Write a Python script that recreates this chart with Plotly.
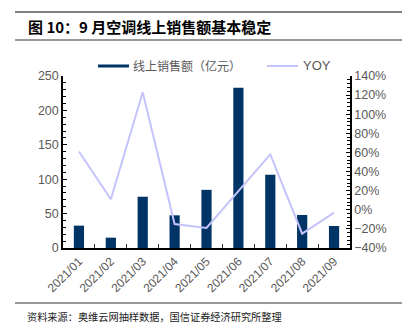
import plotly.graph_objects as go

months = ["2021/01", "2021/02", "2021/03", "2021/04", "2021/05", "2021/06", "2021/07", "2021/08", "2021/09"]
sales = [32.5, 15, 74.5, 47.5, 84.5, 233, 106.5, 48, 32]
yoy = [61, 11, 123, -15, -19, 20, 58, -25, -3]

bar_color = "#003366"
line_color = "#c4c4fb"
grey = "#595959"
cjk = "Noto Sans CJK SC"

fig = go.Figure()
fig.add_trace(go.Bar(x=months, y=sales, name="线上销售额（亿元）", marker_color=bar_color,
                     marker_line_width=0, yaxis="y", showlegend=False))
fig.add_trace(go.Scatter(x=months, y=yoy, name="YOY", mode="lines",
                         line=dict(color=line_color, width=2), yaxis="y2", showlegend=False))

fig.update_layout(
    width=411, height=329,
    margin=dict(l=63, r=61, t=76, b=81),
    paper_bgcolor="white", plot_bgcolor="white",
    bargap=0.68,
    font=dict(family="Liberation Sans, Arial, sans-serif", color=grey, size=12),
    xaxis=dict(
        showline=True, linecolor="black", linewidth=1.5,
        ticks="inside", ticklen=4, tickcolor="#333", tickson="boundaries",
        tickangle=-45, tickfont=dict(size=12, color=grey),
        showgrid=False, zeroline=False,
    ),
    yaxis=dict(
        range=[0, 250], dtick=50, showline=True, linecolor="black", linewidth=1.5,
        ticks="inside", ticklen=4, tickcolor="black",
        minor=dict(dtick=10, ticks="inside", ticklen=3, tickcolor="black"),
        showgrid=False, zeroline=False, tickfont=dict(size=12.5, color=grey),
    ),
    yaxis2=dict(
        range=[-40, 140], dtick=20, overlaying="y", side="right",
        showline=True, linecolor="black", linewidth=1.5,
        ticks="inside", ticklen=4, tickcolor="black",
        minor=dict(dtick=4, ticks="inside", ticklen=3, tickcolor="black"),
        ticksuffix="%", showgrid=False, zeroline=False,
        tickfont=dict(size=12.5, color=grey),
    ),
)

def px_x(x):
    return (x - 63) / 287

def px_y(y):
    return (248 - y) / 172

shapes = [
    dict(type="line", xref="paper", yref="paper", x0=px_x(15), x1=px_x(402),
         y0=px_y(12), y1=px_y(12), line=dict(color="#808080", width=2)),
    dict(type="line", xref="paper", yref="paper", x0=px_x(15), x1=px_x(402),
         y0=px_y(40), y1=px_y(40), line=dict(color="#333333", width=1)),
    dict(type="line", xref="paper", yref="paper", x0=px_x(15), x1=px_x(402),
         y0=px_y(303), y1=px_y(303), line=dict(color="#333333", width=1)),
    # legend swatches
    dict(type="rect", xref="paper", yref="paper", x0=px_x(98), x1=px_x(129),
         y0=px_y(67.5), y1=px_y(64.5), fillcolor=bar_color, line=dict(width=0)),
    dict(type="line", xref="paper", yref="paper", x0=px_x(267), x1=px_x(298),
         y0=px_y(66), y1=px_y(66), line=dict(color=line_color, width=2)),
]
fig.update_layout(shapes=shapes)

annotations = [
    dict(text="<b>图 10：9 月空调线上销售额基本稳定</b>", xref="paper", yref="paper",
         x=px_x(26), y=px_y(27), xanchor="left", yanchor="middle", showarrow=False,
         font=dict(family=cjk, size=15, color="black")),
    dict(text="线上销售额（亿元）", xref="paper", yref="paper",
         x=px_x(131), y=px_y(66), xanchor="left", yanchor="middle", showarrow=False,
         font=dict(family=cjk, size=12, color=grey)),
    dict(text="YOY", xref="paper", yref="paper",
         x=px_x(301), y=px_y(66), xanchor="left", yanchor="middle", showarrow=False,
         font=dict(family="Liberation Sans, Arial, sans-serif", size=13, color=grey)),
    dict(text="资料来源：奥维云网抽样数据，国信证券经济研究所整理", xref="paper", yref="paper",
         x=px_x(25), y=px_y(316), xanchor="left", yanchor="middle", showarrow=False,
         font=dict(family=cjk, size=10.2, color="#222")),
]
fig.update_layout(annotations=annotations)

fig.write_html("out.html")
